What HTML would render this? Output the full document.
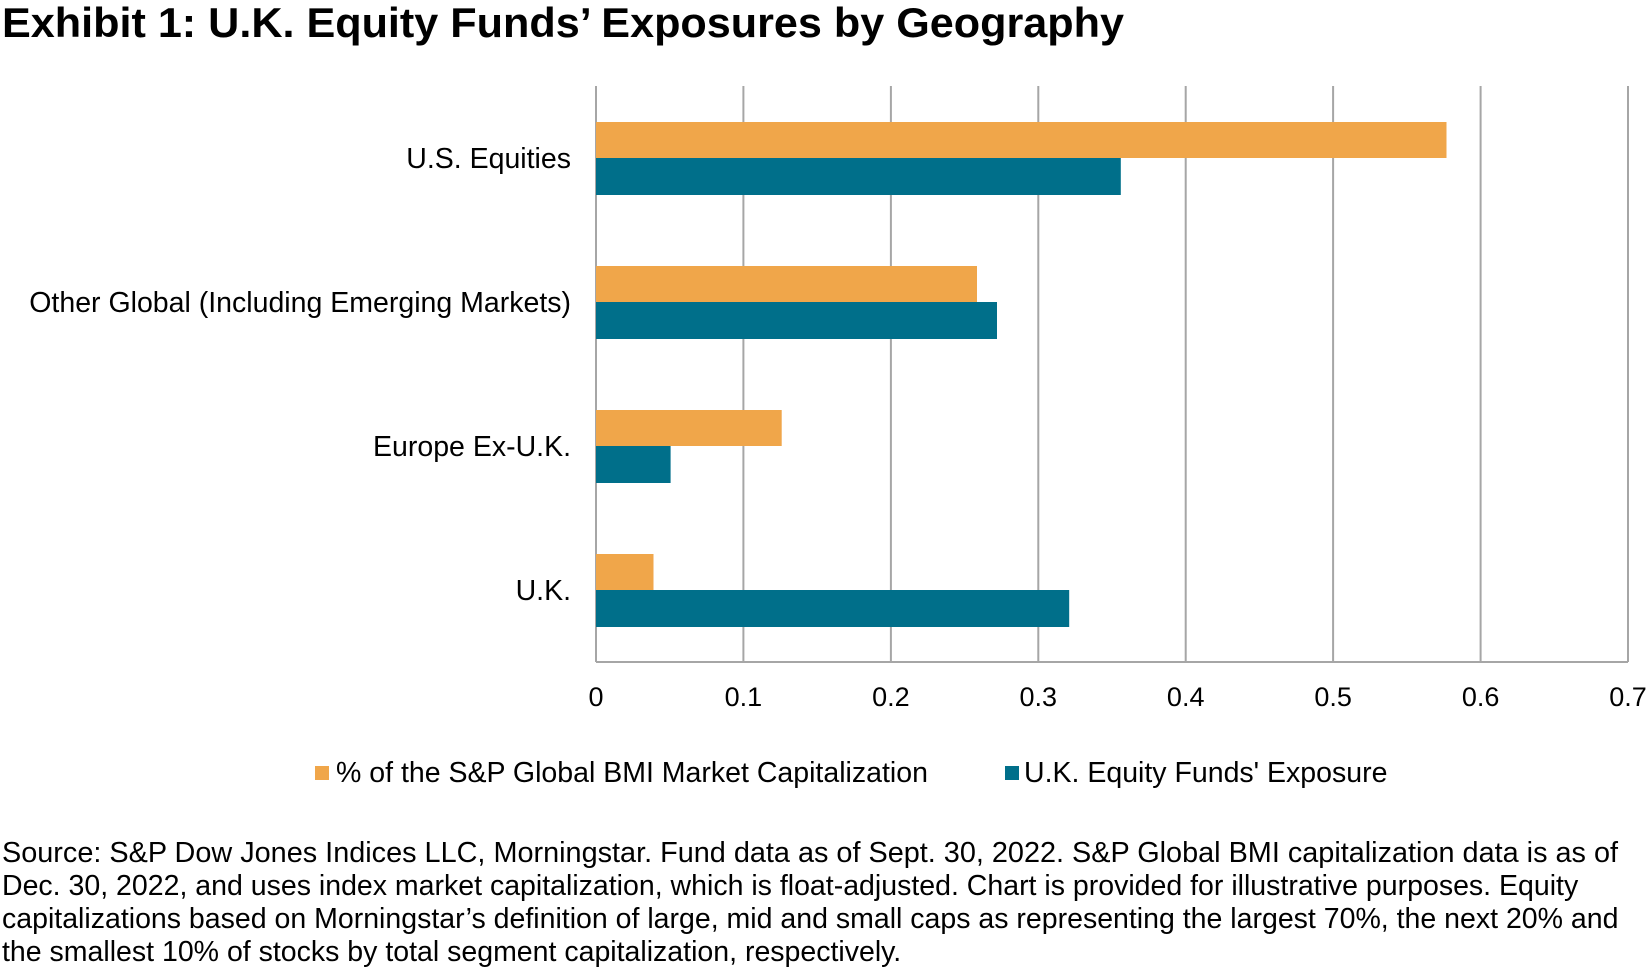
<!DOCTYPE html>
<html><head><meta charset="utf-8"><style>
html,body{margin:0;padding:0;background:#fff;}
svg{display:block;font-family:"Liberation Sans",Arial,sans-serif;}
</style></head><body>
<svg width="1647" height="972" viewBox="0 0 1647 972" xmlns="http://www.w3.org/2000/svg">
<text x="2" y="37" font-size="42" font-weight="bold" fill="#000" textLength="1122" lengthAdjust="spacingAndGlyphs">Exhibit 1: U.K. Equity Funds’ Exposures by Geography</text>
<g stroke="#A6A6A6" stroke-width="2">
<line x1="743.4" y1="86" x2="743.4" y2="662"/>
<line x1="890.9" y1="86" x2="890.9" y2="662"/>
<line x1="1038.3" y1="86" x2="1038.3" y2="662"/>
<line x1="1185.7" y1="86" x2="1185.7" y2="662"/>
<line x1="1333.1" y1="86" x2="1333.1" y2="662"/>
<line x1="1480.6" y1="86" x2="1480.6" y2="662"/>
<line x1="1628" y1="86" x2="1628" y2="662"/>
<line x1="596" y1="86" x2="596" y2="662"/>
<line x1="596" y1="662" x2="1628" y2="662"/>
</g>
<g>
<rect x="596" y="122" width="850.5" height="36" fill="#F0A64A"/>
<rect x="596" y="158" width="524.8" height="37" fill="#006F8A"/>
<rect x="596" y="266" width="381" height="36" fill="#F0A64A"/>
<rect x="596" y="302" width="401" height="37" fill="#006F8A"/>
<rect x="596" y="410" width="185.7" height="36" fill="#F0A64A"/>
<rect x="596" y="446" width="74.6" height="37" fill="#006F8A"/>
<rect x="596" y="554" width="57.5" height="36" fill="#F0A64A"/>
<rect x="596" y="590" width="473.2" height="37" fill="#006F8A"/>
</g>
<g font-size="28.5" fill="#000" text-anchor="end">
<text x="571" y="168">U.S. Equities</text>
<text x="571" y="312">Other Global (Including Emerging Markets)</text>
<text x="571" y="456">Europe Ex-U.K.</text>
<text x="571" y="600">U.K.</text>
</g>
<g font-size="27" fill="#000" text-anchor="middle">
<text x="596" y="706">0</text>
<text x="743.4" y="706">0.1</text>
<text x="890.9" y="706">0.2</text>
<text x="1038.3" y="706">0.3</text>
<text x="1185.7" y="706">0.4</text>
<text x="1333.1" y="706">0.5</text>
<text x="1480.6" y="706">0.6</text>
<text x="1628" y="706">0.7</text>
</g>
<rect x="315" y="766" width="14" height="14" fill="#F0A64A"/>
<text x="336" y="782" font-size="28.5" fill="#000">% of the S&amp;P Global BMI Market Capitalization</text>
<rect x="1005" y="766" width="14" height="14" fill="#006F8A"/>
<text x="1024" y="782" font-size="28.5" fill="#000">U.K. Equity Funds' Exposure</text>
<g font-size="28.5" fill="#000">
<text x="2" y="862" textLength="1616" lengthAdjust="spacingAndGlyphs">Source: S&amp;P Dow Jones Indices LLC, Morningstar. Fund data as of Sept. 30, 2022. S&amp;P Global BMI capitalization data is as of</text>
<text x="2" y="895">Dec. 30, 2022, and uses index market capitalization, which is float-adjusted. Chart is provided for illustrative purposes. Equity</text>
<text x="2" y="928">capitalizations based on Morningstar’s definition of large, mid and small caps as representing the largest 70%, the next 20% and</text>
<text x="2" y="961">the smallest 10% of stocks by total segment capitalization, respectively.</text>
</g>
</svg>
</body></html>
